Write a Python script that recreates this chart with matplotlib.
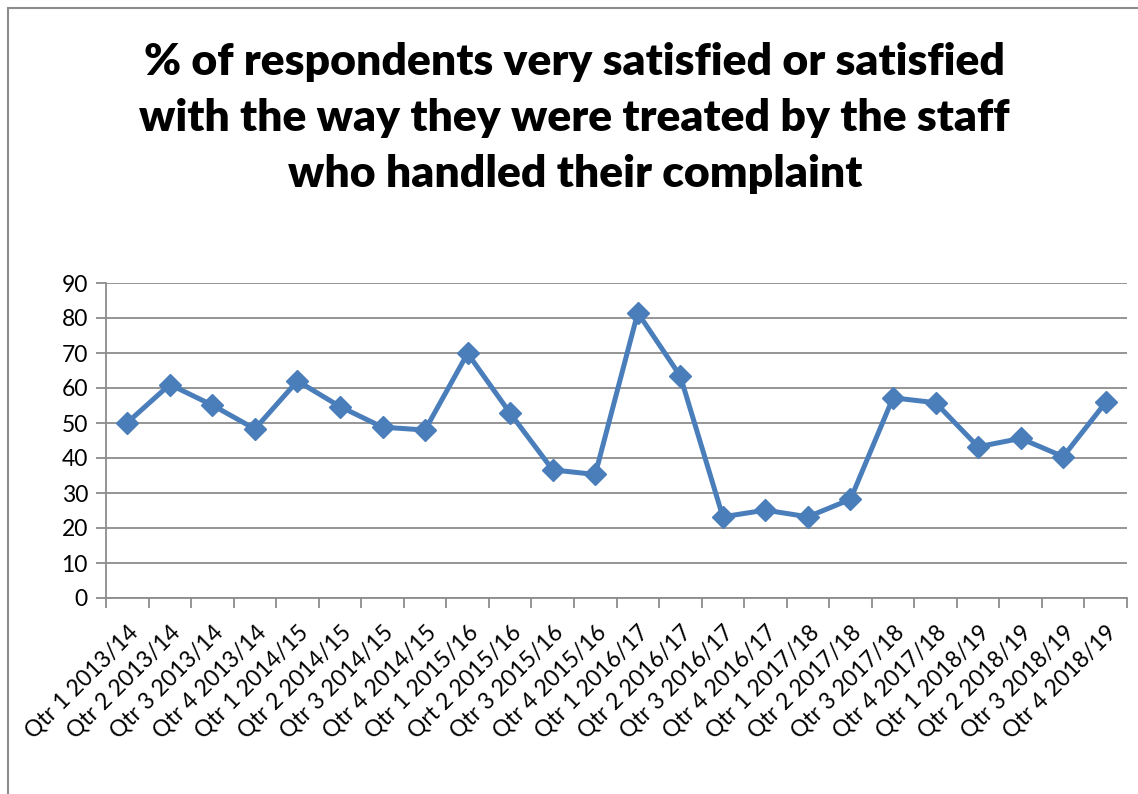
import matplotlib
matplotlib.use("Agg")
import matplotlib.pyplot as plt
from matplotlib.patches import Rectangle
from matplotlib.ticker import FixedLocator, NullFormatter

quarters = [
    "Qtr 1 2013/14", "Qtr 2 2013/14", "Qtr 3 2013/14", "Qtr 4 2013/14",
    "Qtr 1 2014/15", "Qtr 2 2014/15", "Qtr 3 2014/15", "Qtr 4 2014/15",
    "Qtr 1 2015/16", "Qrt 2 2015/16", "Qtr 3 2015/16", "Qtr 4 2015/16",
    "Qtr 1 2016/17", "Qtr 2 2016/17", "Qtr 3 2016/17", "Qtr 4 2016/17",
    "Qtr 1 2017/18", "Qtr 2 2017/18", "Qtr 3 2017/18", "Qtr 4 2017/18",
    "Qtr 1 2018/19", "Qtr 2 2018/19", "Qtr 3 2018/19", "Qtr 4 2018/19",
]
satisfied_pct = [
    50.1, 61.0, 55.1, 48.3, 62.0, 54.7, 48.8, 48.0,
    69.9, 52.8, 36.6, 35.3, 81.5, 63.4, 23.2, 25.1,
    23.2, 28.2, 57.2, 55.8, 43.2, 45.6, 40.4, 55.9,
]
y_ticks = list(range(0, 91, 10))

title = ("% of respondents very satisfied or satisfied\n"
         "with the way they were treated by the staff\n"
         "who handled their complaint")

plt.rcParams["font.family"] = ["Lato", "DejaVu Sans"]

W, H = 1138, 794
fig = plt.figure(figsize=(W / 100, H / 100), dpi=100)
fig.patch.set_facecolor("white")

# chart frame
fig.patches.append(Rectangle((8 / W, -0.05), 1.2, (794 - 8) / H + 0.05,
                             transform=fig.transFigure, fill=False,
                             edgecolor="#8c8c8c", linewidth=1.5))

ax = fig.add_axes([106 / W, 1 - 598 / H, (1127 - 106) / W, (598 - 283) / H])

grid_color = "#8c8c8c"
x = list(range(len(quarters)))
ax.plot(x, satisfied_pct, color="#4a7ebb", linewidth=3.6,
        marker="D", markersize=11, markerfacecolor="#4a7ebb",
        markeredgecolor="#4a7ebb", zorder=3, clip_on=False)

ax.set_xlim(-0.5, len(quarters) - 0.5)
ax.set_ylim(0, 90)
ax.set_yticks(y_ticks)
ax.yaxis.grid(True, color=grid_color, linewidth=1.3)
ax.set_axisbelow(True)

# category labels sit at the centres; tick marks fall between categories
ax.set_xticks(x)
ax.set_xticklabels(quarters, rotation=45, ha="right", rotation_mode="anchor",
                   fontsize=16.5)
ax.tick_params(axis="x", which="major", length=0, pad=17)
ax.xaxis.set_minor_locator(FixedLocator([i - 0.5 for i in range(len(quarters) + 1)]))
ax.xaxis.set_minor_formatter(NullFormatter())
ax.tick_params(axis="x", which="minor", length=7, width=1.3, color=grid_color,
               direction="out")
ax.tick_params(axis="y", length=7, width=1.3, color=grid_color, labelsize=16.5,
               pad=6)

for side in ("top", "right"):
    ax.spines[side].set_visible(False)
for side in ("left", "bottom"):
    ax.spines[side].set_color(grid_color)
    ax.spines[side].set_linewidth(1.3)

fig.text(0.505, 1 - 118 / H, title, ha="center", va="center",
         fontsize=32, fontweight="heavy", linespacing=1.5)

fig.savefig("out.png", dpi=100)
